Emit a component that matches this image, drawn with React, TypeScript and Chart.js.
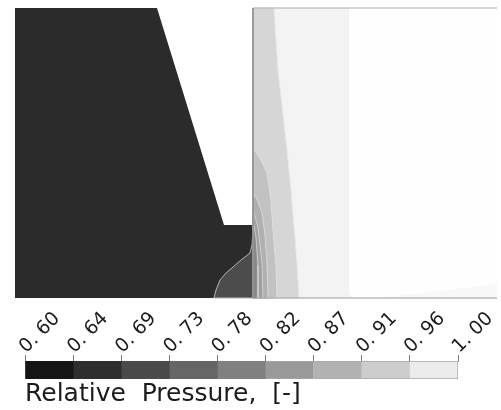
import React, { useEffect, useRef } from "react";
import { Chart, registerables } from "chart.js";

Chart.register(...registerables);

// Colour-bar
const tickLabels = ["0. 60", "0. 64", "0. 69", "0. 73", "0. 78", "0. 82", "0. 87", "0. 91", "0. 96", "1. 00"];
const levelColors = ["#151515", "#2e2e2e", "#4a4a4a", "#666666", "#808080", "#999999", "#b2b2b2", "#cdcdcd", "#ececec"];

// Contour field outlines, in field units
const upstream = [[15, 8], [157, 8], [224, 225], [253, 225], [253, 298], [15, 298]];
const lowPressureCore = [[214, 298], [216, 290], [220, 280], [226, 273], [233, 267], [241, 260], [250, 253], [252, 245], [253, 227], [253, 298]];
const domain = [[253, 8], [497, 8], [497, 298], [253, 298]];
const band96 = [[253, 8], [349, 8], [349, 293], [352, 298], [253, 298]];
const band91 = [[253, 8], [274, 8], [278, 70], [287, 150], [291, 190], [297, 263], [299, 298], [253, 298]];
const band87 = [[253, 148], [260, 158], [267, 173], [271, 200], [273, 230], [276, 265], [277, 298], [253, 298]];
const band82 = [[253, 193], [258, 201], [262, 213], [265, 235], [267, 263], [268, 298], [253, 298]];
const band78 = [[253, 210], [258, 227], [262, 263], [263, 298], [253, 298]];
const band73 = [[253, 220], [256, 237], [258, 265], [258, 298], [253, 298]];
const band69 = [[253, 230], [255, 250], [255, 298], [253, 298]];
const farWedge = [[380, 298], [497, 284], [497, 298]];
const frameTop = [[253, 8], [497, 8]];
const frameBottom = [[253, 298], [497, 298]];
const frameLeft = [[253, 8], [253, 298]];

const toPts = (a: number[][]) => a.map(([x, y]) => ({ x, y }));

export default function App() {
  const fieldRef = useRef<HTMLCanvasElement>(null);
  const barRef = useRef<HTMLCanvasElement>(null);

  useEffect(() => {
    document.body.style.margin = "0";
    const poly = (pts: number[][], fillC: string, line: string, width: number, order: number) => ({
      data: toPts([...pts, pts[0]]),
      showLine: true,
      fill: "shape" as const,
      backgroundColor: fillC,
      borderColor: line,
      borderWidth: width,
      pointRadius: 0,
      tension: 0,
      order,
    });
    const edge = (pts: number[][], line: string, order: number) => ({
      data: toPts(pts),
      showLine: true,
      fill: false,
      borderColor: line,
      borderWidth: 1,
      pointRadius: 0,
      tension: 0,
      order,
    });
    const field = new Chart(fieldRef.current!, {
      type: "scatter",
      data: {
        datasets: [
          poly(upstream, "#2b2b2b", "#2b2b2b", 0, 20),
          poly(domain, "#fefefe", "#fefefe", 0, 19),
          poly(farWedge, "#f8f8f8", "#f8f8f8", 0, 18),
          poly(band96, "#f3f3f3", "#f3f3f3", 0, 17),
          poly(band91, "#d6d6d6", "#e8e8e8", 1, 16),
          poly(band87, "#c2c2c2", "#e0e0e0", 1, 15),
          poly(band82, "#b0b0b0", "#d8d8d8", 1, 14),
          poly(band78, "#a0a0a0", "#d0d0d0", 1, 13),
          poly(band73, "#8e8e8e", "#cccccc", 1, 12),
          poly(band69, "#7c7c7c", "#888888", 1, 11),
          poly(lowPressureCore, "#4c4c4c", "#b5b5b5", 1, 10),
          edge(frameTop, "#ababab", 4),
          edge(frameBottom, "#9a9a9a", 3),
          edge(frameLeft, "#8f8f8f", 2),
        ],
      },
      options: {
        animation: false,
        responsive: false,
        events: [],
        plugins: { legend: { display: false }, tooltip: { enabled: false } },
        scales: {
          x: { type: "linear", display: false, min: 0, max: 501 },
          y: { type: "linear", display: false, min: 0, max: 300, reverse: true },
        },
      },
    });

    const bar = new Chart(barRef.current!, {
      type: "bar",
      data: {
        labels: ["Relative Pressure"],
        datasets: levelColors.map((c, i) => ({
          data: [1],
          backgroundColor: c,
          borderWidth: i < 5 ? 0 : { bottom: 1, top: 1, left: 0, right: i === 8 ? 1 : 0 },
          borderColor: "#a8a8a8",
          borderSkipped: false,
          barPercentage: 1,
          categoryPercentage: 1,
        })),
      },
      options: {
        indexAxis: "y",
        animation: false,
        responsive: false,
        events: [],
        layout: { padding: { left: 25, right: 43, top: 0, bottom: 0 } },
        plugins: {
          legend: { display: false },
          tooltip: { enabled: false },
          title: {
            display: true,
            text: "Relative  Pressure,  [-]",
            position: "bottom",
            align: "start",
            color: "#1c1c1c",
            font: { family: "'DejaVu Sans'", size: 25, weight: "normal", lineHeight: 1.2 },
            padding: { top: 0, bottom: 1 },
          },
        },
        scales: {
          x: {
            position: "top",
            stacked: true,
            min: 0,
            max: 9,
            afterBuildTicks: (axis: any) => {
              axis.ticks = tickLabels.map((_, i) => ({ value: i }));
            },
            afterFit: (axis: any) => {
              axis.height = 61;
            },
            ticks: {
              autoSkip: false,
              minRotation: 45,
              maxRotation: 45,
              padding: -3,
              labelOffset: 14,
              color: "#1c1c1c",
              font: { family: "'DejaVu Sans'", size: 19 },
              callback: (_v: any, i: number) => tickLabels[i],
            },
            grid: { drawOnChartArea: false, drawTicks: true, tickLength: 6, color: "#7c7c7c" },
            border: { color: "#aaaaaa" },
          },
          y: { stacked: true, display: false },
        },
      },
    });
    return () => {
      field.destroy();
      bar.destroy();
    };
  }, []);

  return (
    <div style={{ position: "relative", width: 501, height: 410, background: "#fff" }}>
      <canvas ref={fieldRef} width={501} height={300} style={{ position: "absolute", left: 0, top: 0 }} />
      <canvas ref={barRef} width={501} height={110} style={{ position: "absolute", left: 0, top: 300 }} />
    </div>
  );
}
